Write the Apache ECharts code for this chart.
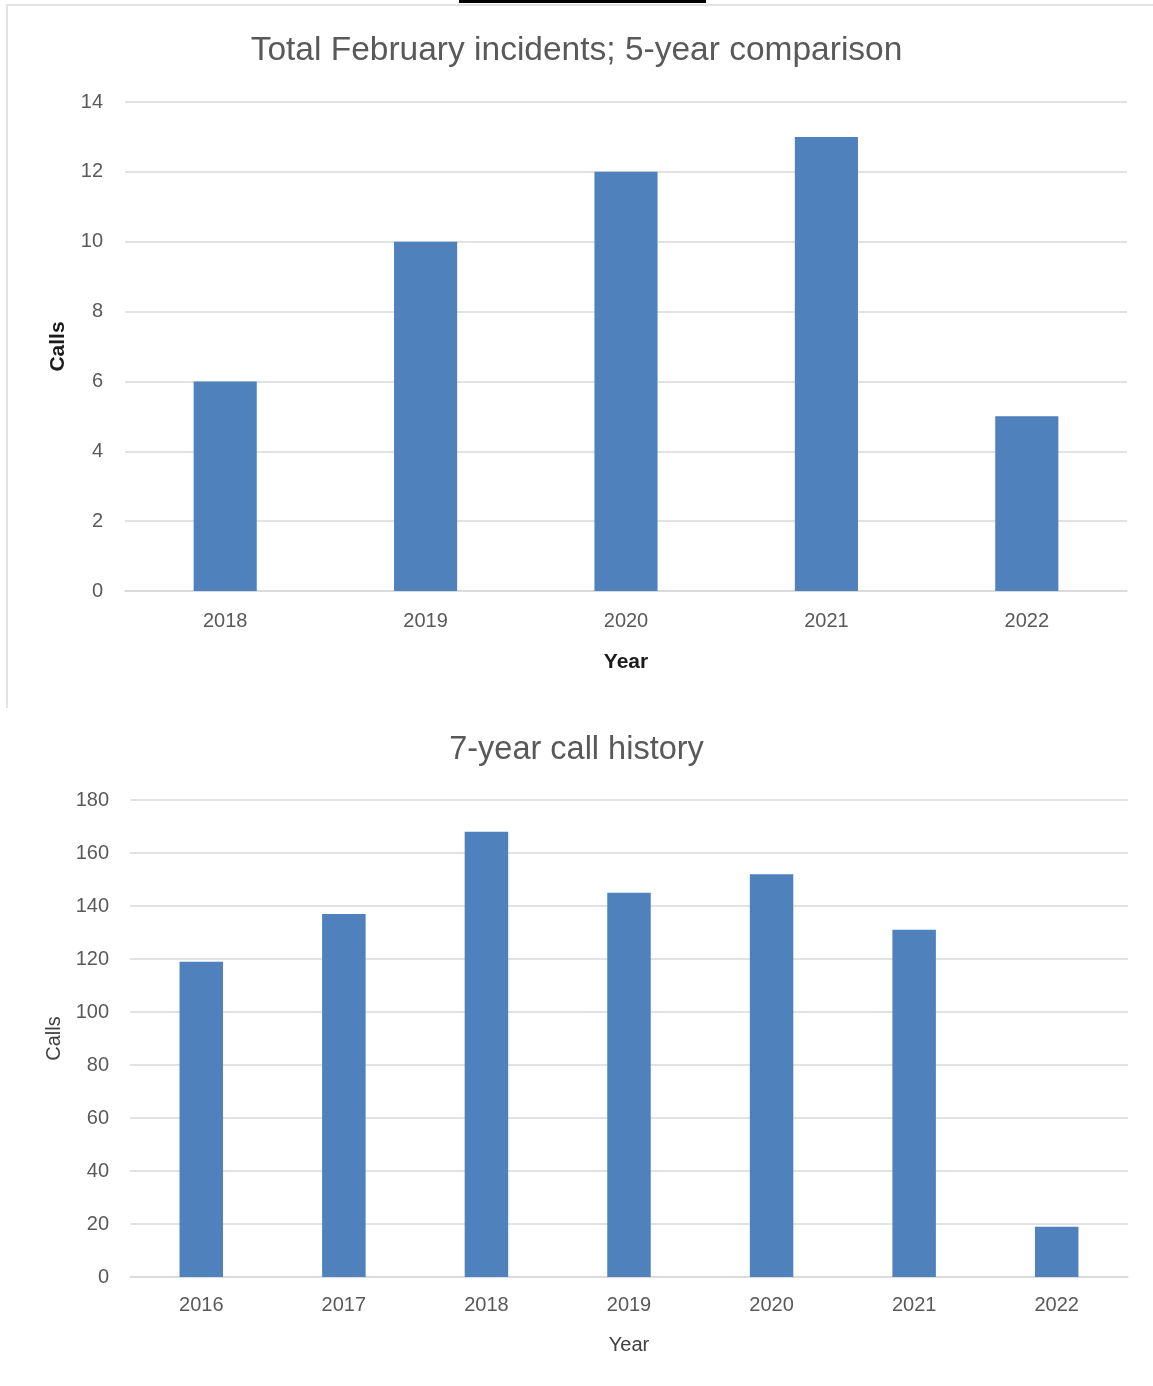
<!DOCTYPE html>
<html>
<head>
<meta charset="utf-8">
<title>February incidents and call history</title>
<script src="https://cdn.jsdelivr.net/npm/echarts@6/dist/echarts.min.js"></script>
<style>
  html, body { margin: 0; padding: 0; background: #ffffff; }
  #chart { width: 1153px; height: 1386px; }
</style>
</head>
<body>
<div id="chart"></div>
<script>
// February incidents per year (top panel)
const febYears = ['2018', '2019', '2020', '2021', '2022'];
const febCalls = [6, 10, 12, 13, 5];

// Yearly call totals (bottom panel)
const historyYears = ['2016', '2017', '2018', '2019', '2020', '2021', '2022'];
const historyCalls = [119, 137, 168, 145, 152, 131, 19];

const FONT = '"Liberation Sans", Arial, sans-serif';
const BAR = '#4f81bd';
const GRID_LINE = '#d9d9d9';
const TEXT = '#595959';

function valueAxis(gridIndex, max, interval, name, nameGap, bold, margin) {
  return {
    type: 'value', gridIndex, min: 0, max, interval,
    name, nameLocation: 'middle', nameGap,
    nameTextStyle: { fontFamily: FONT, fontSize: bold ? 21 : 20, fontWeight: bold ? 'bold' : 'normal', color: bold ? '#1a1a1a' : '#404040' },
    axisLine: { show: false }, axisTick: { show: false },
    axisLabel: { fontFamily: FONT, fontSize: 20, color: TEXT, margin },
    splitLine: { lineStyle: { color: GRID_LINE, width: 1.5 } }
  };
}

function categoryAxis(gridIndex, data, nameGap, bold, margin) {
  return {
    type: 'category', gridIndex, data,
    name: 'Year', nameLocation: 'middle', nameGap,
    nameTextStyle: { fontFamily: FONT, fontSize: bold ? 21 : 20, fontWeight: bold ? 'bold' : 'normal', color: bold ? '#1a1a1a' : '#404040' },
    axisLine: { show: true, lineStyle: { color: GRID_LINE, width: 1.5 } },
    axisTick: { show: false },
    axisLabel: { fontFamily: FONT, fontSize: 20, color: TEXT, margin }
  };
}

const chart = echarts.init(document.getElementById('chart'), null, { renderer: 'canvas' });

chart.setOption({
  backgroundColor: '#ffffff',
  animation: false,
  title: [
    { text: 'Total February incidents; 5-year comparison', left: 'center', top: 29,
      textStyle: { fontFamily: FONT, fontSize: 33.5, fontWeight: 'normal', color: TEXT } },
    { text: '7-year call history', left: 'center', top: 729,
      textStyle: { fontFamily: FONT, fontSize: 32.5, fontWeight: 'normal', color: TEXT } }
  ],
  graphic: [
    { type: 'polyline', shape: { points: [[7, 708], [7, 5], [1153, 5]] },
      style: { stroke: '#d9d9d9', lineWidth: 1.5, fill: null }, silent: true },
    { type: 'rect', shape: { x: 459, y: 0, width: 247, height: 3 },
      style: { fill: '#000000' }, silent: true }
  ],
  grid: [
    { left: 125, right: 26, top: 102, height: 489, containLabel: false },
    { left: 130, right: 25, top: 800, height: 477, containLabel: false }
  ],
  xAxis: [
    categoryAxis(0, febYears, 61, true, 20),
    categoryAxis(1, historyYears, 58, false, 18)
  ],
  yAxis: [
    valueAxis(0, 14, 2, 'Calls', 56, true, 22),
    valueAxis(1, 180, 20, 'Calls', 64, false, 21)
  ],
  series: [
    { type: 'bar', xAxisIndex: 0, yAxisIndex: 0, data: febCalls,
      barWidth: '31.5%', itemStyle: { color: BAR } },
    { type: 'bar', xAxisIndex: 1, yAxisIndex: 1, data: historyCalls,
      barWidth: '30.5%', itemStyle: { color: BAR } }
  ]
});
</script>
</body>
</html>
